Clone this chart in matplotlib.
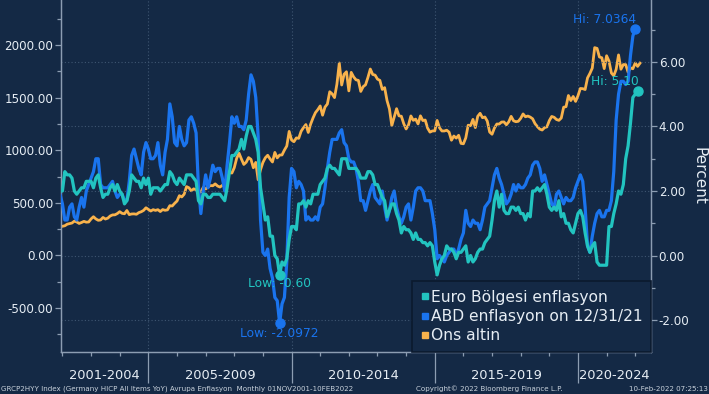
import numpy as np
import matplotlib
matplotlib.use("Agg")
import matplotlib.pyplot as plt
from matplotlib.ticker import MultipleLocator, FixedLocator
from matplotlib.lines import Line2D

# ---------------- data (monthly, month-end) ----------------
# Euro area HICP YoY (%), Nov 2001 .. Jan 2022
euro_2001 = [2.0, 2.0]
euro_vals = [
    2.6, 2.5, 2.5, 2.4, 2.0, 1.9, 2.0, 2.1, 2.1, 2.3, 2.3, 2.3,   # 2002
    2.1, 2.4, 2.5, 2.1, 1.8, 1.9, 1.9, 2.1, 2.2, 2.0, 2.2, 2.0,   # 2003
    1.9, 1.6, 1.7, 2.0, 2.5, 2.4, 2.3, 2.3, 2.1, 2.4, 2.2, 2.4,   # 2004
    1.9, 2.1, 2.1, 2.1, 2.0, 2.1, 2.2, 2.2, 2.6, 2.5, 2.3, 2.2,   # 2005
    2.4, 2.3, 2.2, 2.5, 2.5, 2.5, 2.4, 2.3, 1.7, 1.6, 1.9, 1.9,   # 2006
    1.8, 1.8, 1.9, 1.9, 1.9, 1.9, 1.8, 1.7, 2.1, 2.6, 3.1, 3.1,   # 2007
    3.2, 3.3, 3.6, 3.3, 3.7, 4.0, 4.0, 3.8, 3.6, 3.2, 2.1, 1.6,   # 2008
    1.1, 1.2, 0.6, 0.6, 0.0, -0.1, -0.6, -0.2, -0.3, -0.1, 0.5, 0.9,  # 2009
    0.9, 0.8, 1.6, 1.6, 1.7, 1.5, 1.7, 1.6, 1.9, 1.9, 1.9, 2.2,   # 2010
    2.3, 2.4, 2.7, 2.8, 2.7, 2.7, 2.6, 2.5, 3.0, 3.0, 3.0, 2.7,   # 2011
    2.7, 2.7, 2.7, 2.6, 2.4, 2.4, 2.4, 2.6, 2.6, 2.5, 2.2, 2.2,   # 2012
    2.0, 1.8, 1.7, 1.2, 1.4, 1.6, 1.6, 1.3, 1.1, 0.7, 0.9, 0.8,   # 2013
    0.8, 0.7, 0.5, 0.7, 0.5, 0.5, 0.4, 0.4, 0.3, 0.4, 0.3, -0.2,  # 2014
    -0.6, -0.3, -0.1, 0.0, 0.3, 0.2, 0.2, 0.1, -0.1, 0.1, 0.1, 0.2,  # 2015
    0.3, -0.2, 0.0, -0.2, -0.1, 0.1, 0.2, 0.2, 0.4, 0.5, 0.6, 1.1,  # 2016
    1.7, 2.0, 1.5, 1.9, 1.4, 1.3, 1.3, 1.5, 1.5, 1.4, 1.5, 1.3,   # 2017
    1.3, 1.1, 1.3, 1.2, 2.0, 2.0, 2.1, 2.0, 2.1, 2.2, 1.9, 1.5,   # 2018
    1.4, 1.5, 1.4, 1.7, 1.2, 1.3, 1.0, 1.0, 0.8, 0.7, 1.0, 1.3,   # 2019
    1.4, 1.2, 0.7, 0.3, 0.1, 0.3, 0.4, -0.2, -0.3, -0.3, -0.3, -0.3,  # 2020
    0.9, 0.9, 1.3, 1.6, 2.0, 1.9, 2.2, 3.0, 3.4, 4.1, 4.9, 5.0,   # 2021
    5.1,                                                          # 2022
]
euro = euro_2001 + euro_vals

# US CPI YoY (%), Nov 2001 .. Dec 2021
us = [
    1.9, 1.6,
    1.1, 1.1, 1.5, 1.6, 1.2, 1.1, 1.5, 1.8, 1.5, 2.0, 2.2, 2.4,   # 2002
    2.6, 3.0, 3.0, 2.2, 2.1, 2.1, 2.1, 2.2, 2.3, 2.0, 1.8, 1.9,   # 2003
    1.9, 1.7, 1.7, 2.3, 3.1, 3.3, 3.0, 2.7, 2.5, 3.2, 3.5, 3.3,   # 2004
    3.0, 3.0, 3.1, 3.5, 2.8, 2.5, 3.2, 3.6, 4.7, 4.3, 3.5, 3.4,   # 2005
    4.0, 3.6, 3.4, 3.5, 4.2, 4.3, 4.1, 3.8, 2.1, 1.3, 2.0, 2.5,   # 2006
    2.1, 2.4, 2.8, 2.6, 2.7, 2.7, 2.4, 2.0, 2.8, 3.5, 4.3, 4.1,   # 2007
    4.3, 4.0, 4.0, 3.9, 4.2, 5.0, 5.6, 5.4, 4.9, 3.7, 1.1, 0.1,   # 2008
    0.0, 0.2, -0.4, -0.7, -1.3, -1.4, -2.0972, -1.5, -1.3, -0.2, 1.8, 2.7,  # 2009
    2.6, 2.1, 2.3, 2.2, 2.0, 1.1, 1.2, 1.1, 1.1, 1.2, 1.1, 1.5,   # 2010
    1.6, 2.1, 2.7, 3.2, 3.6, 3.6, 3.6, 3.8, 3.9, 3.5, 3.4, 3.0,   # 2011
    2.9, 2.9, 2.7, 2.3, 1.7, 1.7, 1.4, 1.7, 2.0, 2.2, 1.8, 1.7,   # 2012
    1.6, 2.0, 1.5, 1.1, 1.4, 1.8, 2.0, 1.5, 1.2, 1.0, 1.2, 1.5,   # 2013
    1.6, 1.1, 1.5, 2.0, 2.1, 2.1, 2.0, 1.7, 1.7, 1.7, 1.3, 0.8,   # 2014
    -0.1, 0.0, -0.1, -0.2, 0.0, 0.1, 0.2, 0.2, 0.0, 0.2, 0.5, 0.7,  # 2015
    1.4, 1.0, 0.9, 1.1, 1.0, 1.0, 0.8, 1.1, 1.5, 1.6, 1.7, 2.1,   # 2016
    2.5, 2.7, 2.4, 2.2, 1.9, 1.6, 1.7, 1.9, 2.2, 2.0, 2.2, 2.1,   # 2017
    2.1, 2.2, 2.4, 2.5, 2.8, 2.9, 2.9, 2.7, 2.3, 2.5, 2.2, 1.9,   # 2018
    1.6, 1.5, 1.9, 2.0, 1.8, 1.6, 1.8, 1.7, 1.7, 1.8, 2.1, 2.3,   # 2019
    2.5, 2.3, 1.5, 0.3, 0.1, 0.6, 1.0, 1.3, 1.4, 1.2, 1.2, 1.4,   # 2020
    1.4, 1.7, 2.6, 4.2, 5.0, 5.4, 5.4, 5.3, 5.4, 6.2, 6.8, 7.0364,  # 2021
]

# Gold (USD/oz), Nov 2001 .. Feb 2022
gold = [
    275, 277,
    282, 297, 302, 308, 326, 318, 304, 313, 324, 316, 318, 347,   # 2002
    368, 347, 334, 337, 361, 346, 354, 375, 385, 386, 398, 416,   # 2003
    400, 396, 427, 388, 394, 395, 391, 407, 415, 428, 453, 438,   # 2004
    422, 435, 428, 435, 417, 436, 429, 433, 473, 470, 495, 517,   # 2005
    568, 556, 582, 654, 643, 614, 633, 624, 599, 604, 646, 632,   # 2006
    650, 665, 662, 680, 660, 650, 666, 672, 743, 789, 783, 834,   # 2007
    923, 972, 916, 865, 886, 930, 913, 833, 884, 719, 815, 884,   # 2008
    928, 952, 917, 888, 979, 927, 954, 955, 1001, 1040, 1179, 1097,  # 2009
    1081, 1117, 1113, 1180, 1215, 1244, 1169, 1248, 1307, 1357, 1386, 1421,  # 2010
    1333, 1410, 1439, 1556, 1536, 1500, 1628, 1829, 1620, 1722, 1746, 1564,  # 2011
    1740, 1697, 1669, 1664, 1559, 1604, 1622, 1692, 1772, 1720, 1714, 1676,  # 2012
    1664, 1578, 1595, 1472, 1393, 1234, 1313, 1395, 1327, 1323, 1253, 1202,  # 2013
    1240, 1326, 1284, 1296, 1250, 1327, 1282, 1287, 1210, 1172, 1183, 1184,  # 2014
    1283, 1213, 1183, 1183, 1190, 1172, 1095, 1135, 1115, 1142, 1065, 1061,  # 2015
    1118, 1238, 1233, 1293, 1215, 1322, 1351, 1309, 1316, 1277, 1173, 1152,  # 2016
    1211, 1249, 1249, 1268, 1269, 1242, 1270, 1322, 1280, 1271, 1275, 1303,  # 2017
    1345, 1318, 1325, 1315, 1299, 1253, 1224, 1201, 1192, 1215, 1222, 1282,  # 2018
    1321, 1313, 1292, 1284, 1306, 1409, 1414, 1520, 1472, 1511, 1464, 1517,  # 2019
    1587, 1585, 1577, 1687, 1730, 1781, 1975, 1968, 1886, 1879, 1776, 1898,  # 2020
    1847, 1734, 1708, 1769, 1906, 1770, 1814, 1814, 1742, 1783, 1774, 1829,  # 2021
    1797, 1828,                                                              # 2022
]

series_labels = ["Euro Bölgesi enflasyon", "ABD enflasyon on 12/31/21", "Ons altin"]
period_labels = ["2001-2004", "2005-2009", "2010-2014", "2015-2019", "2020-2024"]
period_bounds = [2001, 2005, 2010, 2015, 2020, 2025]
footer_left = "GRCP2HYY Index (Germany HICP All Items YoY) Avrupa Enflasyon  Monthly 01NOV2001-10FEB2022"
footer_mid = "Copyright\u00a9 2022 Bloomberg Finance L.P."
footer_right = "10-Feb-2022 07:25:13"

# x positions: month-end as decimal year, starting Nov 2001
def month_axis(n):
    return 2001 + 11 / 12 + np.arange(n) / 12.0

x_euro = month_axis(len(euro))
x_us = month_axis(len(us))
x_gold = month_axis(len(gold))

# ---------------- style ----------------
BG = "#142945"
C_EURO = "#22c4c0"
C_US = "#1a74ee"
C_GOLD = "#f8b24c"
TXT = "#e6edf4"
AXC = "#8c9db2"
GRID = "#3f5672"

fig = plt.figure(figsize=(7.09, 3.94), dpi=100, facecolor=BG)
ax = fig.add_axes([61 / 709, 42 / 394, 590 / 709, 352 / 394])
ax.set_facecolor(BG)
ax2 = ax.twinx()
ax2.set_facecolor("none")

XMIN, XMAX = 2001.95, 2022.55
ax.set_xlim(XMIN, XMAX)
ax.set_ylim(-918, 2428)
ax2.set_ylim(-2.99, 7.92)

# gold on left axis
ax.plot(x_gold, gold, color=C_GOLD, lw=2.0, solid_joinstyle="round", zorder=3)
# inflation on right axis
ax2.plot(x_us, us, color=C_US, lw=2.3, solid_joinstyle="round", zorder=3)
ax2.plot(x_euro, euro, color=C_EURO, lw=2.3, solid_joinstyle="round", zorder=4)

# high / low markers
i_us_hi, i_us_lo = int(np.argmax(us)), int(np.argmin(us))
i_eu_hi, i_eu_lo = int(np.argmax(euro)), int(np.argmin(euro))
ax2.plot([x_us[i_us_hi], x_us[i_us_lo]], [us[i_us_hi], us[i_us_lo]], "o", color=C_US, ms=6.5, zorder=5)
ax2.plot([x_euro[i_eu_hi], x_euro[i_eu_lo]], [euro[i_eu_hi], euro[i_eu_lo]], "o", color=C_EURO, ms=6.5, zorder=6)

afont = dict(family="DejaVu Sans", fontsize=8.8)
ax2.annotate(f"Hi: {us[i_us_hi]:.4f}", (x_us[i_us_hi], us[i_us_hi]), xytext=(1, 9),
             textcoords="offset pixels", ha="right", va="center", color=C_US, **afont)
ax2.annotate(f"Low: {us[i_us_lo]:.4f}", (x_us[i_us_lo], us[i_us_lo]), xytext=(0, -10),
             textcoords="offset pixels", ha="center", va="center", color=C_US, **afont)
ax2.annotate(f"Hi: {euro[i_eu_hi]:.2f}", (x_euro[i_eu_hi], euro[i_eu_hi]), xytext=(1, 9),
             textcoords="offset pixels", ha="right", va="center", color=C_EURO, **afont)
ax2.annotate(f"Low: {euro[i_eu_lo]:.2f}", (x_euro[i_eu_lo], euro[i_eu_lo]), xytext=(0, -9),
             textcoords="offset pixels", ha="center", va="center", color=C_EURO, **afont)

# axes / ticks
for a in (ax, ax2):
    for s in a.spines.values():
        s.set_color(AXC)
        s.set_linewidth(0.9)
    a.spines["top"].set_visible(False)

ax.yaxis.set_major_locator(MultipleLocator(500))
ax.yaxis.set_minor_locator(MultipleLocator(250))
ax.yaxis.set_major_formatter(matplotlib.ticker.FormatStrFormatter("%.2f"))
ax2.yaxis.set_major_locator(MultipleLocator(2))
ax2.yaxis.set_minor_locator(MultipleLocator(1))
ax2.yaxis.set_major_formatter(matplotlib.ticker.FormatStrFormatter("%.2f"))

ax.tick_params(axis="y", which="major", colors=AXC, labelcolor=TXT, labelsize=8.6, length=4, width=0.9, pad=1.5)
ax.tick_params(axis="y", which="minor", colors=AXC, length=3, width=0.9)
ax2.tick_params(axis="y", which="major", colors=AXC, labelcolor=TXT, labelsize=8.6, length=4, width=0.9, pad=1.5)
ax2.tick_params(axis="y", which="minor", colors=AXC, length=3, width=0.9)

ax.xaxis.set_major_locator(FixedLocator(period_bounds[1:-1]))
ax.xaxis.set_minor_locator(MultipleLocator(1))
ax.tick_params(axis="x", which="major", colors=AXC, length=22, width=0.9, labelbottom=False)
ax.tick_params(axis="x", which="minor", colors=AXC, length=3, width=0.9)
ax2.tick_params(axis="x", which="both", bottom=False, labelbottom=False)

ax.grid(axis="x", which="major", color=GRID, ls=(0, (1, 2)), lw=0.8)
ax2.grid(axis="y", which="major", color=GRID, ls=(0, (1, 2)), lw=0.8)
ax.set_axisbelow(True)

# period labels centered in the visible part of each interval
tb = matplotlib.transforms.blended_transform_factory(ax.transData, ax.transAxes)
for lab, lo, hi in zip(period_labels, period_bounds[:-1], period_bounds[1:]):
    c = (max(lo, XMIN) + min(hi, XMAX)) / 2
    ax.text(c, -0.068, lab, transform=tb, ha="center", va="center", color=TXT, fontsize=9.4)

ax2.set_ylabel("Percent", rotation=270, color=TXT, fontsize=11, labelpad=12)

# legend
handles = [Line2D([], [], ls="none", marker="s", ms=5, color=c) for c in (C_EURO, C_US, C_GOLD)]
leg = ax2.legend(handles, series_labels, loc="lower right", bbox_to_anchor=(1.0, 0.0),
                 frameon=True, fancybox=False, fontsize=11.2, handlelength=0.5, handletextpad=0.15,
                 borderpad=0.55, labelspacing=0.28, borderaxespad=0.0, labelcolor=TXT)
leg.get_frame().set_facecolor(BG)
leg.get_frame().set_edgecolor("#0b1a2e")
leg.get_frame().set_linewidth(1.2)
leg.get_frame().set_alpha(1)

# footer
fig.text(1 / 709, 5 / 394, footer_left, ha="left", va="center", color="#c9d2dc", fontsize=5.1)
fig.text(489 / 709, 5 / 394, footer_mid, ha="center", va="center", color="#c9d2dc", fontsize=5.1)
fig.text(708 / 709, 5 / 394, footer_right, ha="right", va="center", color="#c9d2dc", fontsize=5.1)

fig.savefig("out.png", dpi=100, facecolor=BG)
